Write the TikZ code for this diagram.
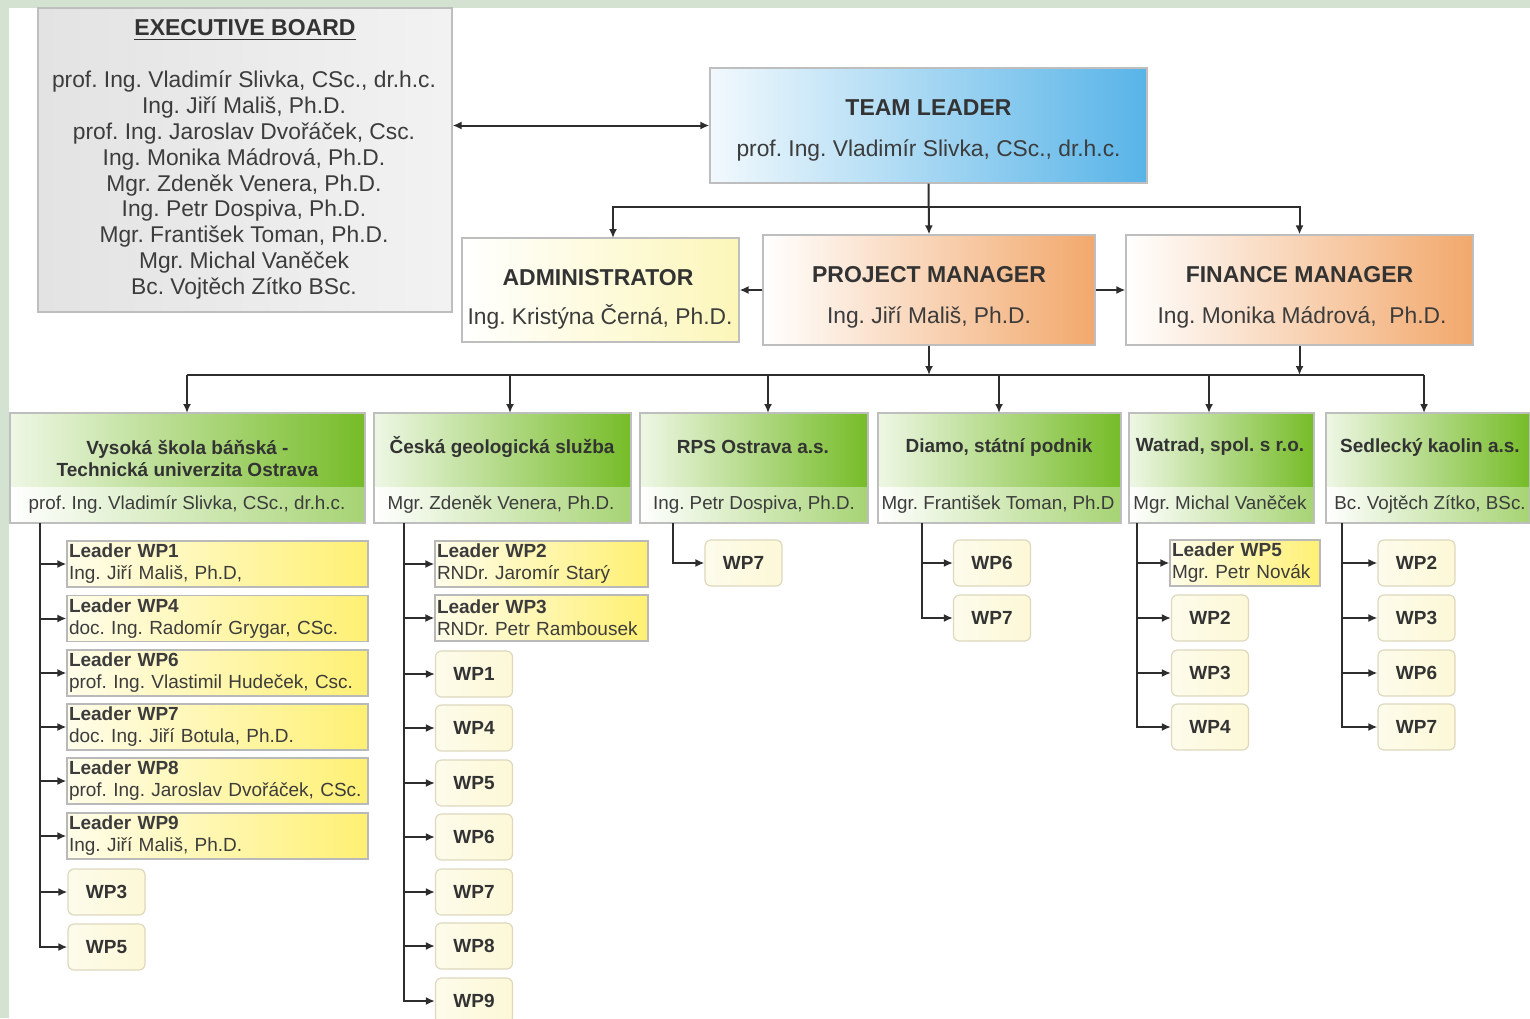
\documentclass[tikz,border=0pt]{standalone}
\usepackage{fontspec}
\setmainfont{Liberation Sans}
\frenchspacing
\usetikzlibrary{arrows.meta}

\definecolor{bggreen}{RGB}{212,226,210}
\definecolor{boxline}{RGB}{190,190,190}
\definecolor{linegray}{RGB}{45,45,45}
\definecolor{textgray}{RGB}{60,60,60}
\definecolor{tlblue}{RGB}{88,180,232}
\definecolor{adminyellow}{RGB}{252,246,185}
\definecolor{pmorange}{RGB}{242,168,108}
\definecolor{partgreen}{RGB}{118,188,40}
\definecolor{leadyellow}{RGB}{255,240,115}
\definecolor{wpcream}{RGB}{252,248,215}
\definecolor{wpline}{RGB}{222,216,190}

\tikzset{
  box/.style={draw=boxline, line width=0.6pt, inner sep=0pt},
  board/.style={box, left color=gray!22, middle color=white, right color=gray!10,
    minimum width=207pt, minimum height=152pt},
  tlbox/.style={box, left color=tlblue!8, middle color=tlblue!30, right color=tlblue,
    minimum width=218.5pt, minimum height=57.5pt},
  adminbox/.style={box, left color=white, right color=adminyellow,
    minimum width=138.5pt, minimum height=52pt},
  mgrbox/.style={box, left color=white, right color=pmorange, minimum height=55pt},
  ptbox/.style={box, left color=partgreen!12, middle color=partgreen!45, right color=partgreen,
    minimum height=55pt,
    path picture={\fill[left color=white, right color=partgreen!65]
      (path picture bounding box.south west) rectangle
      ([yshift=18pt]path picture bounding box.south east);}},
  ldbox/.style={box, draw=gray!55, left color=leadyellow!15, right color=leadyellow,
    minimum height=23pt, inner xsep=1pt, align=left, text=textgray,
    font=\fontsize{9.5}{11}\selectfont},
  wpbox/.style={box, draw=wpline, rounded corners=3pt, left color=wpcream!50,
    right color=wpcream, minimum width=38.5pt, minimum height=23pt,
    text=black!80, font=\fontsize{9.5}{11}\selectfont\bfseries},
  ttl/.style={inner sep=0pt, text=black!80, font=\fontsize{11.5}{13}\selectfont\bfseries},
  nm/.style={inner sep=0pt, text=textgray, font=\fontsize{11.4}{12.9}\selectfont},
  pttl/.style={inner sep=0pt, text=black!80, font=\fontsize{9.5}{11}\selectfont\bfseries},
  pnm/.style={inner sep=0pt, text=textgray, font=\fontsize{9.4}{11}\selectfont},
  line/.style={draw=linegray, line width=1pt},
  conn/.style={line, -{Latex[length=4.5pt,width=4pt]}},
  dconn/.style={line, {Latex[length=4.5pt,width=4pt]}-{Latex[length=4.5pt,width=4pt]}}
}

\begin{document}
\begin{tikzpicture}[x=0.5pt, y=-0.5pt]
      % background
      \useasboundingbox (0,0) rectangle (1530,1018);
      \fill[bggreen] (0,0) rectangle (1530,1018);
      \fill[white] (9,8) rectangle (1530,1018);

      % executive board
      \node[board] (board) at (245,160) {};
      \node[ttl] (board-t) at (245,30) {\underline{EXECUTIVE BOARD}};
      \node[nm, align=center] (board-n) at (244,185) {prof. Ing. Vladimír Slivka, CSc., dr.h.c.\\
        Ing. Jiří Mališ, Ph.D.\\ prof. Ing. Jaroslav Dvořáček, Csc.\\ Ing. Monika Mádrová, Ph.D.\\
        Mgr. Zdeněk Venera, Ph.D.\\ Ing. Petr Dospiva, Ph.D.\\ Mgr. František Toman, Ph.D.\\
        Mgr. Michal Vaněček\\ Bc. Vojtěch Zítko BSc.};

      % team leader
      \node[tlbox] (tl) at (928.5,125.5) {};
      \node[ttl] (tl-t) at (928.5,108) {TEAM LEADER};
      \node[nm] (tl-n) at (928.5,150) {prof. Ing. Vladimír Slivka, CSc., dr.h.c.};

      % administrator, project manager, finance manager
      \node[adminbox] (admin) at (600.5,290) {};
      \node[ttl] (admin-t) at (598,278) {ADMINISTRATOR};
      \node[nm] (admin-n) at (600,317) {Ing. Kristýna Černá, Ph.D.};

      \node[mgrbox, minimum width=166pt] (pm) at (929,290) {};
      \node[ttl] (pm-t) at (929,275) {PROJECT MANAGER};
      \node[nm] (pm-n) at (929,317) {Ing. Jiří Mališ, Ph.D.};

      \node[mgrbox, minimum width=173.5pt] (fm) at (1299.5,290) {};
      \node[ttl] (fm-t) at (1299.5,275) {FINANCE MANAGER};
      \node[nm] (fm-n) at (1302,317) {Ing. Monika Mádrová,\ \ Ph.D.};

      % upper connectors
      \coordinate (tbar) at (929,207);
      \coordinate (admin-in) at (613,238);
      \draw[dconn] (board.east |- tl.west) -- (tl.west);
      \draw[conn] (tl.south) -- (pm.north);
      \draw[conn] (tl.south |- tbar) -| (admin-in);
      \draw[conn] (tl.south |- tbar) -| (fm.north);
      \draw[conn] (pm.west) -- (admin.east);
      \draw[conn] (pm.east) -- (fm.west);

      % partners
      \node[ptbox, minimum width=177.5pt] (vsb) at (187.5,468) {};
      \node[pttl, align=center] (vsb-t) at (187.5,458) {Vysoká škola báňská -\\Technická univerzita Ostrava};
      \node[pnm] (vsb-n) at (187,505) {prof. Ing. Vladimír Slivka, CSc., dr.h.c.};

      \node[ptbox, minimum width=128.5pt] (cgs) at (502.5,468) {};
      \node[pttl] (cgs-t) at (502,447) {Česká geologická služba};
      \node[pnm] (cgs-n) at (501,505) {Mgr. Zdeněk Venera, Ph.D.};

      \node[ptbox, minimum width=114pt] (rps) at (754,468) {};
      \node[pttl] (rps-t) at (753,447) {RPS Ostrava a.s.};
      \node[pnm] (rps-n) at (754,505) {Ing. Petr Dospiva, Ph.D.};

      \node[ptbox, minimum width=121.5pt] (diamo) at (999.5,468) {};
      \node[pttl] (diamo-t) at (999,447) {Diamo, státní podnik};
      \node[pnm] (diamo-n) at (998,505) {Mgr. František Toman, Ph.D};

      \node[ptbox, minimum width=92.5pt] (watrad) at (1221.5,468) {};
      \node[pttl] (watrad-t) at (1220,447) {Watrad, spol. s r.o.};
      \node[pnm] (watrad-n) at (1220,505) {Mgr. Michal Vaněček};

      \node[ptbox, minimum width=102pt] (sedl) at (1428,468) {};
      \node[pttl] (sedl-t) at (1430,447) {Sedlecký kaolin a.s.};
      \node[pnm] (sedl-n) at (1430,505) {Bc. Vojtěch Zítko, BSc.};

      % lower bar
      \coordinate (bar) at (187,375);
      \coordinate (vsb-in) at (187,413);
      \coordinate (cgs-in) at (510,413);
      \coordinate (rps-in) at (768,413);
      \coordinate (diamo-in) at (999,413);
      \coordinate (watrad-in) at (1209,413);
      \coordinate (sedl-in) at (1424,413);
      \draw[line] (vsb-in |- bar) -- (sedl-in |- bar);
      \draw[conn] (pm.south) -- (pm.south |- bar);
      \draw[conn] (fm.south) -- (fm.south |- bar);
      \draw[conn] (vsb-in |- bar) -- (vsb-in);
      \draw[conn] (cgs-in |- bar) -- (cgs-in);
      \draw[conn] (rps-in |- bar) -- (rps-in);
      \draw[conn] (diamo-in |- bar) -- (diamo-in);
      \draw[conn] (watrad-in |- bar) -- (watrad-in);
      \draw[conn] (sedl-in |- bar) -- (sedl-in);

      % VSB work packages
      \coordinate (vsb-out) at (40,523);
      \node[ldbox, text width=148.5pt] (vsb-l1) at (217.5,564) {\textbf{Leader WP1}\\Ing. Jiří Mališ, Ph.D,};
      \node[ldbox, text width=148.5pt] (vsb-l4) at (217.5,618.5) {\textbf{Leader WP4}\\doc. Ing. Radomír Grygar, CSc.};
      \node[ldbox, text width=148.5pt] (vsb-l6) at (217.5,673) {\textbf{Leader WP6}\\prof. Ing. Vlastimil Hudeček, Csc.};
      \node[ldbox, text width=148.5pt] (vsb-l7) at (217.5,727) {\textbf{Leader WP7}\\doc. Ing. Jiří Botula, Ph.D.};
      \node[ldbox, text width=148.5pt] (vsb-l8) at (217.5,781) {\textbf{Leader WP8}\\prof. Ing. Jaroslav Dvořáček, CSc.};
      \node[ldbox, text width=148.5pt] (vsb-l9) at (217.5,836) {\textbf{Leader WP9}\\Ing. Jiří Mališ, Ph.D.};
      \node[wpbox] (vsb-w3) at (106.5,892) {WP3};
      \node[wpbox] (vsb-w5) at (106.5,947) {WP5};
      \draw[conn] (vsb-out) |- (vsb-l1.west);
      \draw[conn] (vsb-out) |- (vsb-l4.west);
      \draw[conn] (vsb-out) |- (vsb-l6.west);
      \draw[conn] (vsb-out) |- (vsb-l7.west);
      \draw[conn] (vsb-out) |- (vsb-l8.west);
      \draw[conn] (vsb-out) |- (vsb-l9.west);
      \draw[conn] (vsb-out) |- (vsb-w3.west);
      \draw[conn] (vsb-out) |- (vsb-w5.west);

      % CGS work packages
      \coordinate (cgs-out) at (404,523);
      \node[ldbox, text width=104.5pt] (cgs-l2) at (541.5,564) {\textbf{Leader WP2}\\RNDr. Jaromír Starý};
      \node[ldbox, text width=104.5pt] (cgs-l3) at (541.5,618) {\textbf{Leader WP3}\\RNDr. Petr Rambousek};
      \node[wpbox] (cgs-w1) at (474,674) {WP1};
      \node[wpbox] (cgs-w4) at (474,728) {WP4};
      \node[wpbox] (cgs-w5) at (474,783) {WP5};
      \node[wpbox] (cgs-w6) at (474,837) {WP6};
      \node[wpbox] (cgs-w7) at (474,892) {WP7};
      \node[wpbox] (cgs-w8) at (474,946) {WP8};
      \node[wpbox] (cgs-w9) at (474,1001) {WP9};
      \draw[conn] (cgs-out) |- (cgs-l2.west);
      \draw[conn] (cgs-out) |- (cgs-l3.west);
      \draw[conn] (cgs-out) |- (cgs-w1.west);
      \draw[conn] (cgs-out) |- (cgs-w4.west);
      \draw[conn] (cgs-out) |- (cgs-w5.west);
      \draw[conn] (cgs-out) |- (cgs-w6.west);
      \draw[conn] (cgs-out) |- (cgs-w7.west);
      \draw[conn] (cgs-out) |- (cgs-w8.west);
      \draw[conn] (cgs-out) |- (cgs-w9.west);

      % RPS work packages
      \coordinate (rps-out) at (673,523);
      \node[wpbox] (rps-w7) at (743.5,563) {WP7};
      \draw[conn] (rps-out) |- (rps-w7.west);

      % Diamo work packages
      \coordinate (diamo-out) at (922,523);
      \node[wpbox] (diamo-w6) at (992,563) {WP6};
      \node[wpbox] (diamo-w7) at (992,618) {WP7};
      \draw[conn] (diamo-out) |- (diamo-w6.west);
      \draw[conn] (diamo-out) |- (diamo-w7.west);

      % Watrad work packages
      \coordinate (watrad-out) at (1137,523);
      \node[ldbox, text width=73pt] (watrad-l5) at (1245,563) {\textbf{Leader WP5}\\Mgr. Petr Novák};
      \node[wpbox] (watrad-w2) at (1210,618) {WP2};
      \node[wpbox] (watrad-w3) at (1210,673) {WP3};
      \node[wpbox] (watrad-w4) at (1210,727) {WP4};
      \draw[conn] (watrad-out) |- (watrad-l5.west);
      \draw[conn] (watrad-out) |- (watrad-w2.west);
      \draw[conn] (watrad-out) |- (watrad-w3.west);
      \draw[conn] (watrad-out) |- (watrad-w4.west);

      % Sedlecky kaolin work packages
      \coordinate (sedl-out) at (1342,523);
      \node[wpbox] (sedl-w2) at (1416.5,563) {WP2};
      \node[wpbox] (sedl-w3) at (1416.5,618) {WP3};
      \node[wpbox] (sedl-w6) at (1416.5,673) {WP6};
      \node[wpbox] (sedl-w7) at (1416.5,727) {WP7};
      \draw[conn] (sedl-out) |- (sedl-w2.west);
      \draw[conn] (sedl-out) |- (sedl-w3.west);
      \draw[conn] (sedl-out) |- (sedl-w6.west);
      \draw[conn] (sedl-out) |- (sedl-w7.west);
    \end{tikzpicture}
\end{document}
